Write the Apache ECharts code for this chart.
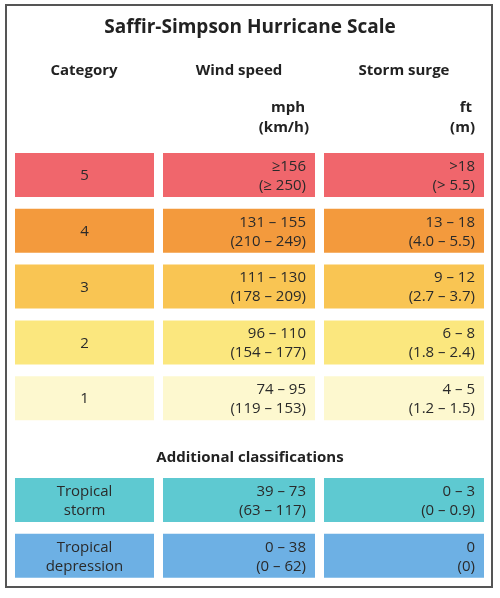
<!DOCTYPE html>
<html><head><meta charset="utf-8">
<script src="https://cdn.jsdelivr.net/npm/echarts@6/dist/echarts.min.js"></script>
<style>html,body{margin:0;padding:0;background:#fff}#c{width:500px;height:598px}</style>
</head><body><div id="c"></div>
<script>
const categories = ['5','4','3','2','1','Tropical\nstorm','Tropical\ndepression'];
const windSpeed = ['≥156\n(≥ 250)','131 – 155\n(210 – 249)','111 – 130\n(178 – 209)','96 – 110\n(154 – 177)','74 – 95\n(119 – 153)','39 – 73\n(63 – 117)','0 – 38\n(0 – 62)'];
const stormSurge = ['>18\n(> 5.5)','13 – 18\n(4.0 – 5.5)','9 – 12\n(2.7 – 3.7)','6 – 8\n(1.8 – 2.4)','4 – 5\n(1.2 – 1.5)','0 – 3\n(0 – 0.9)','0\n(0)'];
const section = ['main','main','main','main','main','additional','additional'];
const rowColors = ['#f0666c','#f39a3d','#f9c553','#fbe77e','#fdf8cf','#5ec9d1','#6db0e4'];

const colEdges = [[0,139],[148,300],[309,469]];
const cellH = 44, extraOffset = 46;
const F = '"Open Sans","Noto Sans",sans-serif';

const data = [];
categories.forEach((c,i)=>{
  [c, windSpeed[i], stormSurge[i]].forEach((t,col)=>data.push([col,i,t,section[i]]));
});

const chart = echarts.init(document.getElementById('c'));
chart.setOption({
  animation:false,
  grid:{left:15,right:16,top:153,height:279},
  xAxis:{type:'value',min:0,max:3,show:false},
  yAxis:{type:'value',min:0,max:5,inverse:true,show:false},
  graphic:[
    {type:'rect',shape:{x:6,y:5,width:486,height:582},style:{fill:'none',stroke:'#555',lineWidth:2}},
    {type:'text',x:250,y:28,style:{text:'Saffir-Simpson Hurricane Scale',font:'bold 19px '+F,fill:'#222',align:'center',verticalAlign:'middle'}},
    {type:'text',x:84,y:71,style:{text:'Category',font:'bold 15px '+F,fill:'#222',align:'center',verticalAlign:'middle'}},
    {type:'text',x:239,y:71,style:{text:'Wind speed',font:'bold 15px '+F,fill:'#222',align:'center',verticalAlign:'middle'}},
    {type:'text',x:404,y:71,style:{text:'Storm surge',font:'bold 15px '+F,fill:'#222',align:'center',verticalAlign:'middle'}},
    {type:'text',x:305,y:108,style:{text:'mph',font:'bold 15px '+F,fill:'#222',align:'right',verticalAlign:'middle'}},
    {type:'text',x:309,y:128,style:{text:'(km/h)',font:'bold 15px '+F,fill:'#222',align:'right',verticalAlign:'middle'}},
    {type:'text',x:472,y:108,style:{text:'ft',font:'bold 15px '+F,fill:'#222',align:'right',verticalAlign:'middle'}},
    {type:'text',x:475,y:128,style:{text:'(m)',font:'bold 15px '+F,fill:'#222',align:'right',verticalAlign:'middle'}},
    {type:'text',x:250,y:458,style:{text:'Additional classifications',font:'bold 15px '+F,fill:'#222',align:'center',verticalAlign:'middle'}}
  ],
  series:[{
    type:'custom',clip:false,data:data,
    renderItem:function(params,api){
      const col=api.value(0), row=api.value(1);
      const d=data[params.dataIndex];
      const base=api.coord([0,row]);
      const x0=base[0]+colEdges[col][0], w=colEdges[col][1]-colEdges[col][0];
      const y0=base[1]+(d[3]==='additional'?extraOffset:0);
      const tx = col===0 ? x0+w/2 : x0+w-9;
      return {type:'group',children:[
        {type:'rect',shape:{x:x0,y:y0,width:w,height:cellH},style:{fill:rowColors[row]}},
        {type:'text',x:tx,y:y0+cellH/2+1,style:{text:d[2],font:'15px '+F,lineHeight:19,fill:'#2a2a2a',align:col===0?'center':'right',verticalAlign:'middle'}}
      ]};
    }
  }]
});
</script></body></html>
